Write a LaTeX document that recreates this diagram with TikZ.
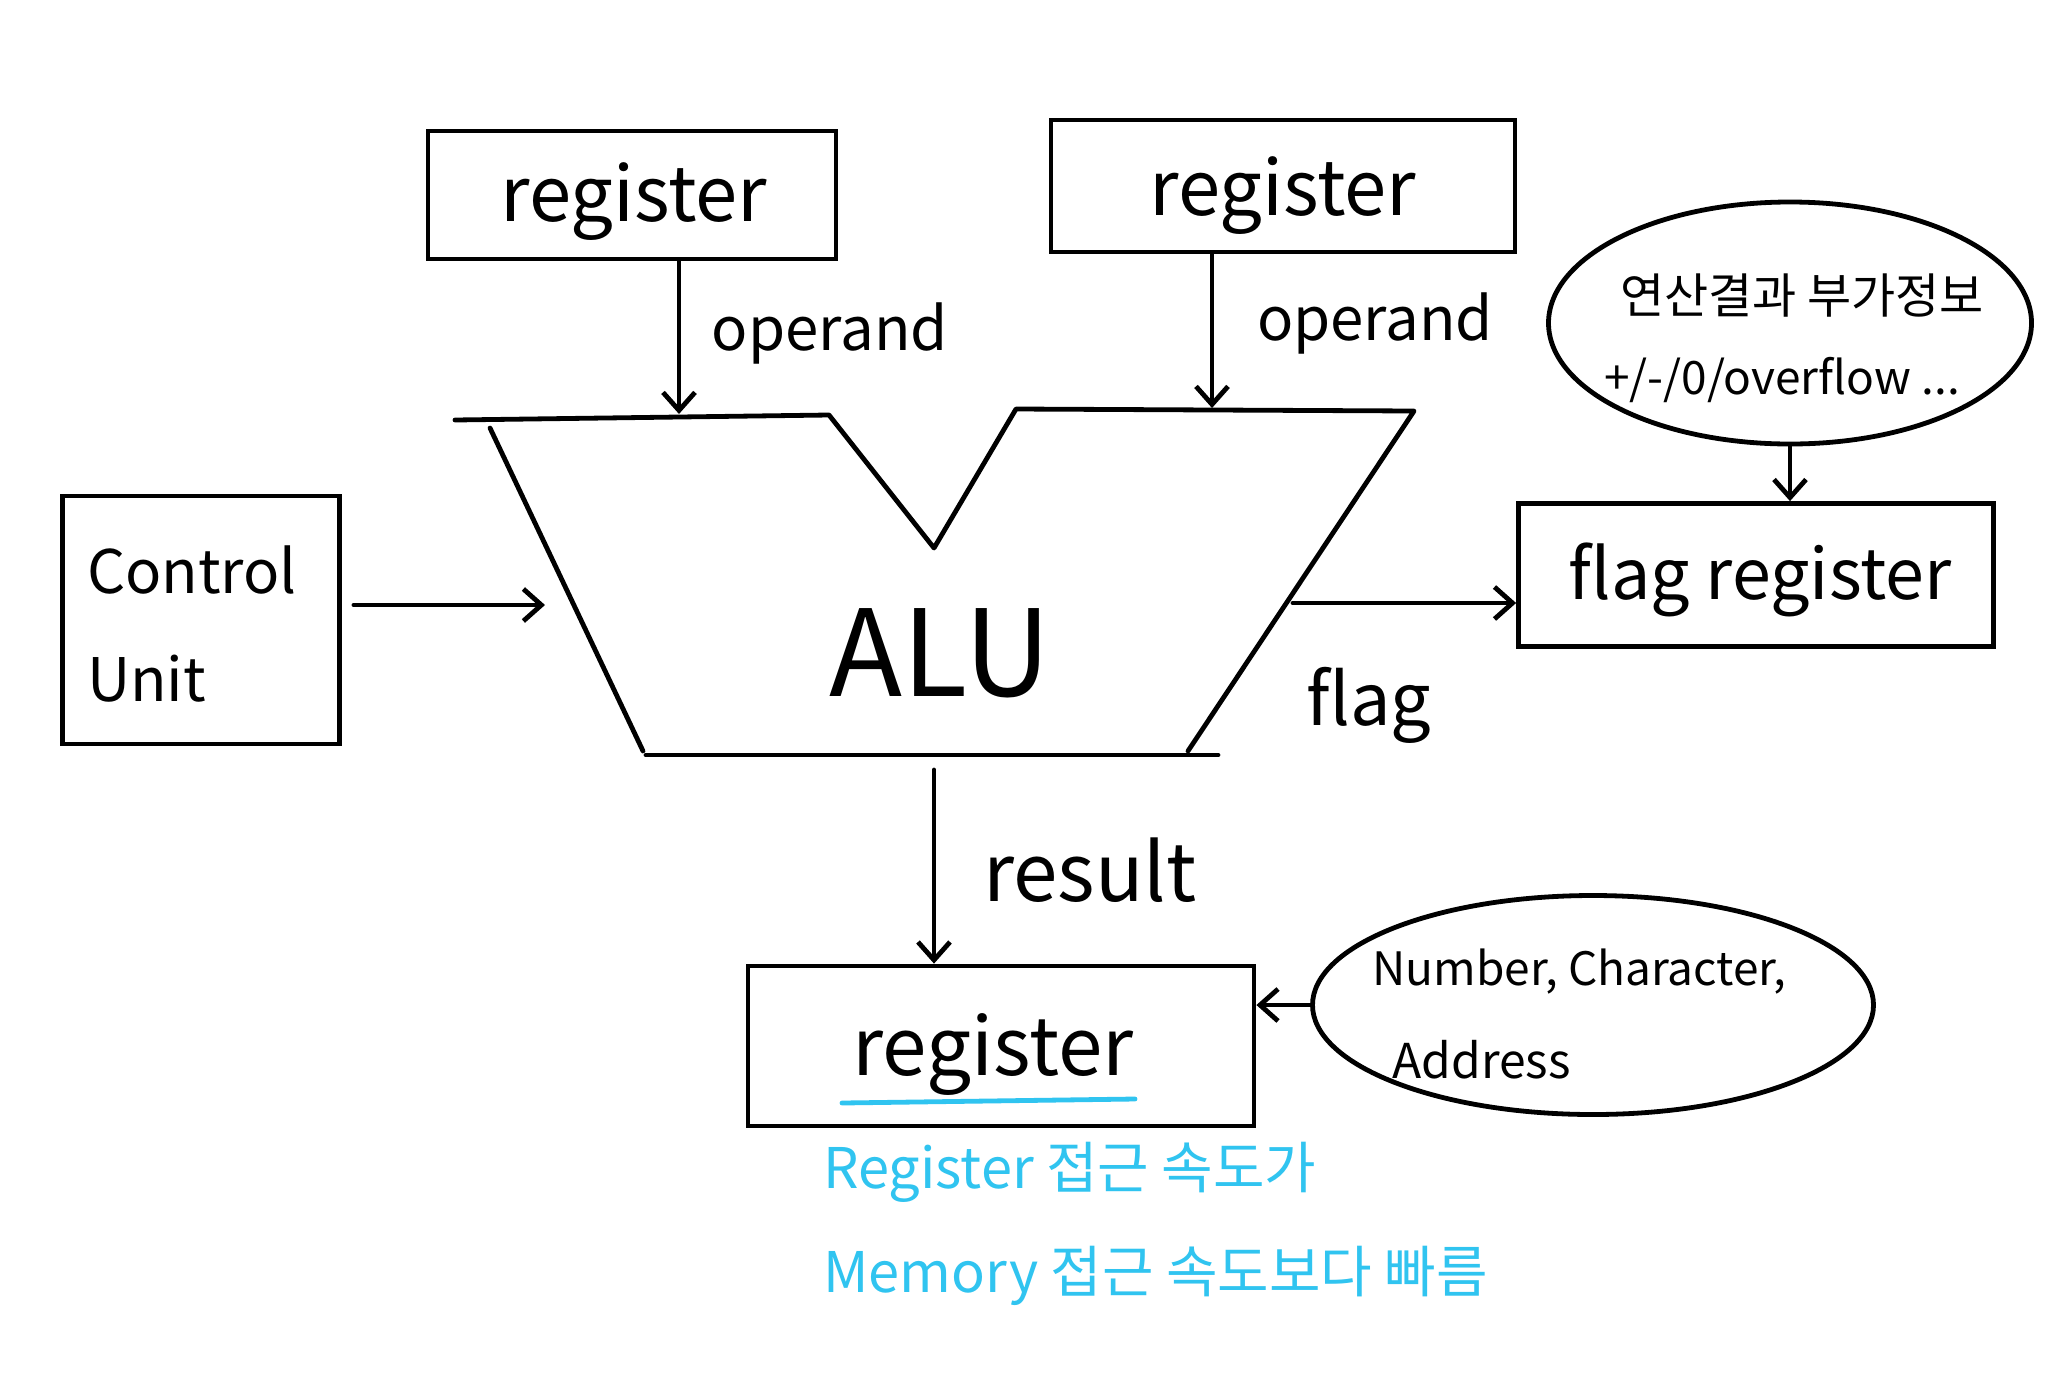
\documentclass[tikz,border=0pt]{standalone}
\usepackage{fontspec}
\setmainfont{Noto Sans CJK KR}
\usetikzlibrary{arrows.meta,shapes.geometric,calc}
\definecolor{handblue}{RGB}{48,196,240}
\tikzset{
  ink/.style={line width=2.4pt, line cap=round, line join=round, black},
  regbox/.style={draw, line width=2.4pt, inner sep=0pt},
  arr/.style={ink, -{Straight Barb[length=9pt,width=16pt,line width=2.4pt]}},
  lbl/.style={inner sep=0pt, align=center},
  bubble/.style={draw, ellipse, line width=2.4pt, inner sep=0pt},
}
\begin{document}
\begin{tikzpicture}[x=0.5pt,y=-0.5pt]
\useasboundingbox (0,0) rectangle (2048,1387);
\fill[white] (0,0) rectangle (2048,1387);

% boxes
\node[regbox, minimum width=204pt, minimum height=64pt] (reg1) at (632,195) {};
\node[lbl, font=\fontsize{38}{44}\selectfont] (reg1t) at (634,202) {register};
\node[regbox, minimum width=232pt, minimum height=66pt] (reg2) at (1283,186) {};
\node[lbl, font=\fontsize{38}{44}\selectfont] (reg2t) at (1283,196) {register};
\node[regbox, minimum width=138.5pt, minimum height=124pt] (cu) at (201,620) {};
\node[lbl, font=\fontsize{30}{54}\selectfont, align=left] (cut) at (192,624) {Control\\Unit};
\node[regbox, minimum width=237.5pt, minimum height=71.5pt] (flag) at (1756,575) {};
\node[lbl, font=\fontsize{35}{44}\selectfont] (flagt) at (1760,580) {flag register};
\node[regbox, minimum width=253pt, minimum height=80pt] (reg3) at (1001,1046) {};
\node[lbl, font=\fontsize{40}{46}\selectfont] (reg3t) at (993,1054) {register};
\draw[handblue, line width=2.4pt, line cap=round] (842,1103) -- (1135,1099);

% ALU shape
\coordinate (tl) at (455,420);
\coordinate (tlm) at (829,415);
\coordinate (v) at (934,548);
\coordinate (trm) at (1016,409);
\coordinate (tr) at (1414,411);
\coordinate (br) at (1188,751);
\coordinate (bl) at (643,751);
\coordinate (ltop) at (490,428);
\draw[ink] (tl) -- (tlm) -- (v) -- (trm) -- (tr) -- (br);
\draw[ink] (ltop) -- (bl);
\draw[ink] (646,755) -- (1218,755);
\node[lbl, font=\fontsize{60}{66}\selectfont] (alu) at (940,653) {ALU};

% connection points on ALU
\coordinate (a1) at (679,414);
\coordinate (a2) at (1212,408);
\coordinate (aL) at (545,605);
\coordinate (aR) at (1293,603);
\coordinate (aB) at (934,770);

% connectors
\draw[arr] (reg1.south -| a1) -- (a1);
\node[lbl, font=\fontsize{30}{36}\selectfont] (op1) at (830,333) {operand};
\draw[arr] (reg2.south -| a2) -- (a2);
\node[lbl, font=\fontsize{30}{36}\selectfont] (op2) at (1375,323) {operand};
\draw[arr] (cu.east |- aL) ++(12,0) -- (aL);
\draw[arr] (aR) -- (flag.west |- aR);
\node[lbl, font=\fontsize{36}{44}\selectfont] (flagl) at (1369,705) {flag};
\draw[arr] (aB) -- (reg3.north -| aB);
\node[lbl, font=\fontsize{40}{46}\selectfont] (res) at (1090,870) {result};

% bubble 1
\node[bubble, minimum width=241.5pt, minimum height=121pt] (b1) at (1790,323) {};
\node[lbl, font=\fontsize{24}{30}\selectfont] (b1a) at (1802,296) {연산결과 부가정보};
\node[lbl, font=\fontsize{23}{30}\selectfont] (b1b) at (1782,380) {+/-/0/overflow ...};
\draw[arr] (b1.south) -- (b1.south |- flag.north);

% bubble 2
\node[bubble, minimum width=280.5pt, minimum height=109.5pt] (b2) at (1593,1005) {};
\node[lbl, font=\fontsize{23}{30}\selectfont, anchor=west] (b2a) at (1372,972) {Number, Character,};
\node[lbl, font=\fontsize{24}{30}\selectfont, anchor=west] (b2b) at (1392,1060) {Address};
\draw[arr] (b2.west) -- (reg3.east |- b2.west);

% blue note
\node[lbl, handblue, font=\fontsize{28}{34}\selectfont, anchor=west] (n1) at (823,1172) {Register 접근 속도가};
\node[lbl, handblue, font=\fontsize{28}{34}\selectfont, anchor=west] (n2) at (823,1276) {Memory 접근 속도보다 빠름};
\end{tikzpicture}
\end{document}
